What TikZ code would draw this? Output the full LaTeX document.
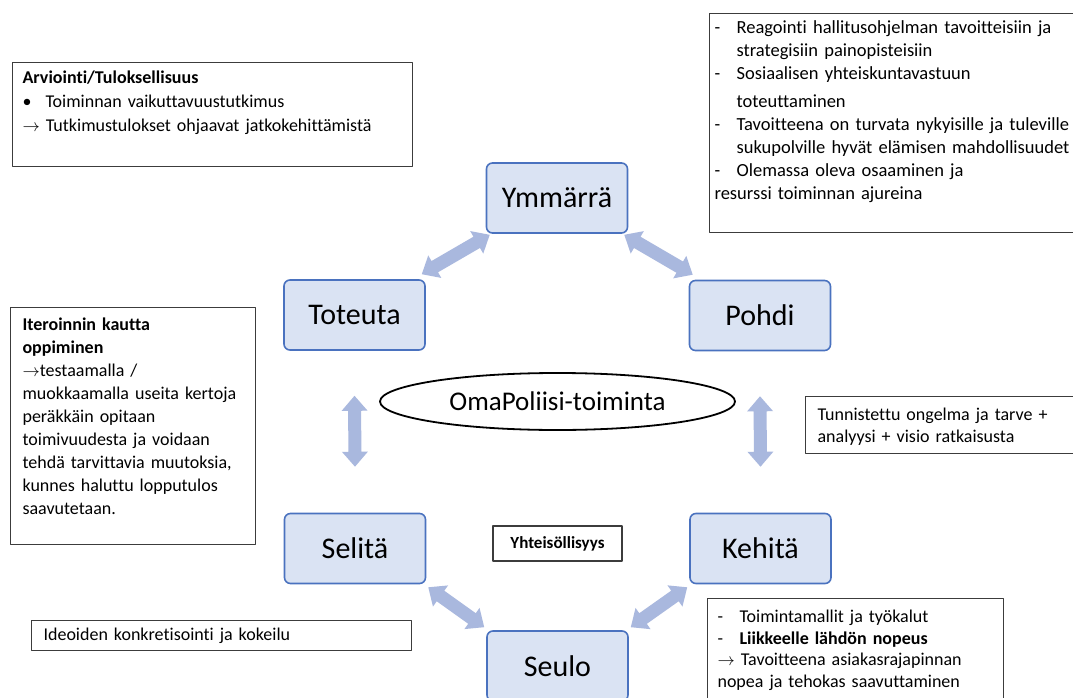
\documentclass[tikz,border=0pt]{standalone}
\usepackage{fontspec}
\setmainfont{Carlito}[Ligatures=NoCommon]
\usepackage{tikz}
\usetikzlibrary{calc,shapes.geometric}
\definecolor{boxfill}{HTML}{DAE3F3}
\definecolor{boxline}{HTML}{4A72BF}
\definecolor{flowfill}{HTML}{A9B8DE}
\definecolor{frame}{HTML}{3C3C3C}
\tikzset{
  stepbox/.style={draw=boxline, fill=boxfill, line width=1.6pt, rounded corners=6pt,
    minimum width=141pt, minimum height=70pt, font=\fontsize{30}{36}\selectfont},
  hub/.style={ellipse, draw=black, line width=1.8pt, minimum width=355pt, minimum height=57pt,
    font=\fontsize{27}{32}\selectfont},
  infobox/.style={draw=frame, line width=1.1pt, anchor=north west, align=left,
    inner xsep=10pt, inner ysep=8pt, font=\fontsize{18}{23}\selectfont},
  tagbox/.style={draw=frame, line width=1.1pt, minimum width=129pt, minimum height=35pt,
    font=\fontsize{17}{20}\selectfont\bfseries},
  flow/.style={fill=flowfill}
}
\newcommand{\boxgap}[1]{\rule[-#1]{0pt}{#1}}
\newcommand{\dashitem}{\makebox[22pt][l]{-}}
\newcommand{\BlockArrow}[3][]{%
  % #1 = fill options, #2 = first tip, #3 = second tip
  \fill[#1] (#2)
    -- ($(#2)!15pt!(#3)!13pt!90:(#3)$)
    -- ($(#2)!15pt!(#3)!6.5pt!90:(#3)$)
    -- ($(#3)!15pt!(#2)!6.5pt!-90:(#2)$)
    -- ($(#3)!15pt!(#2)!13pt!-90:(#2)$)
    -- (#3)
    -- ($(#3)!15pt!(#2)!13pt!90:(#2)$)
    -- ($(#3)!15pt!(#2)!6.5pt!90:(#2)$)
    -- ($(#2)!15pt!(#3)!6.5pt!-90:(#3)$)
    -- ($(#2)!15pt!(#3)!13pt!-90:(#3)$)
    -- cycle;
}

\begin{document}
\begin{tikzpicture}[x=1pt, y=-1pt, line join=round]
  \useasboundingbox (0,0) rectangle (1073,698);
  \fill[white] (0,0) rectangle (1073,698);
  % cycle steps
  \node[stepbox] (ymm) at (557,198) {Ymmärrä};
  \node[stepbox] (tot) at (354.5,315) {Toteuta};
  \node[stepbox] (poh) at (760,315.5) {Pohdi};
  \node[stepbox] (sel) at (355,548.5) {Selitä};
  \node[stepbox] (keh) at (760.5,548.5) {Kehitä};
  \node[stepbox] (seu) at (557.5,666) {Seulo};
  \node[hub] (oma) at (557.5,401.5) {OmaPoliisi-toiminta};
  \node[tagbox] (yht) at (557.5,543.5) {Yhteisöllisyys};
  % block arrows between the steps
  \coordinate (ymmTL) at ([xshift=4pt,yshift=-1pt]ymm.south west);
  \coordinate (totTR) at ([xshift=-4pt,yshift=5pt]tot.north east);
  \coordinate (ymmTR) at ([xshift=-4pt,yshift=-1pt]ymm.south east);
  \coordinate (pohTL) at ([xshift=4pt,yshift=5pt]poh.north west);
  \coordinate (totB) at ([yshift=-45pt]tot.south);
  \coordinate (selT) at ([yshift=46pt]sel.north);
  \coordinate (pohB) at ([yshift=-45pt]poh.south);
  \coordinate (kehT) at ([yshift=46pt]keh.north);
  \coordinate (selBR) at ([xshift=2pt,yshift=-3pt]sel.south east);
  \coordinate (seuTL) at ([xshift=-2pt,yshift=3pt]seu.north west);
  \coordinate (kehBL) at ([xshift=-2pt,yshift=-3pt]keh.south west);
  \coordinate (seuTR) at ([xshift=2pt,yshift=3pt]seu.north east);
  \BlockArrow[flow]{ymmTL}{totTR}
  \BlockArrow[flow]{ymmTR}{pohTL}
  \BlockArrow[flow]{totB}{selT}
  \BlockArrow[flow]{pohB}{kehT}
  \BlockArrow[flow]{selBR}{seuTL}
  \BlockArrow[flow]{kehBL}{seuTR}
  % notes
  \node[infobox, text width=380pt, font=\fontsize{18}{24}\selectfont] (arv) at (12,62) {%
    \textbf{Arviointi/Tuloksellisuus}\\
    \makebox[23pt][l]{\textbullet}Toiminnan vaikuttavuustutkimus\\
    $\rightarrow$ Tutkimustulokset ohjaavat jatkokehittämistä\boxgap{27pt}};
  \node[infobox, text width=380pt, inner xsep=5pt, inner ysep=7pt,
    font=\fontsize{18.5}{23}\selectfont] (tav) at (709,13) {%
    \dashitem Reagointi hallitusohjelman tavoitteisiin ja\\
    \hspace*{22pt}strategisiin painopisteisiin\\
    \dashitem Sosiaalisen yhteiskuntavastuun\\[5pt]
    \hspace*{22pt}toteuttaminen\\
    \dashitem Tavoitteena on turvata nykyisille ja tuleville\\
    \hspace*{22pt}sukupolville hyvät elämisen mahdollisuudet\\
    \dashitem Olemassa oleva osaaminen ja\\
    resurssi toiminnan ajureina\boxgap{26pt}};
  \node[infobox, text width=221pt, inner xsep=12pt, inner ysep=10pt] (ite) at (10,307) {%
    \textbf{Iteroinnin kautta}\\
    \textbf{oppiminen}\\
    $\rightarrow$testaamalla /\\
    muokkaamalla useita kertoja\\
    peräkkäin opitaan\\
    toimivuudesta ja voidaan\\
    tehdä tarvittavia muutoksia,\\
    kunnes haluttu lopputulos\\
    saavutetaan.\boxgap{20pt}};
  \node[infobox, text width=270pt, inner xsep=12pt, inner ysep=8pt,
    font=\fontsize{18}{22}\selectfont] (tun) at (805,396) {%
    \rule{0pt}{16pt}Tunnistettu ongelma ja tarve +\\
    analyysi + visio ratkaisusta};
  \node[infobox, text width=356pt, inner xsep=12pt, inner ysep=7pt] (ide) at (31,620) {%
    Ideoiden konkretisointi ja kokeilu};
  \node[infobox, text width=276pt, inner xsep=10pt, inner ysep=8pt,
    font=\fontsize{18}{21.7}\selectfont] (toi) at (707,598) {%
    \rule{0pt}{16pt}\dashitem Toimintamallit ja työkalut\\
    \dashitem\textbf{Liikkeelle lähdön nopeus}\\
    $\rightarrow$ Tavoitteena asiakasrajapinnan\\
    nopea ja tehokas saavuttaminen\boxgap{20pt}};
\end{tikzpicture}
\end{document}
